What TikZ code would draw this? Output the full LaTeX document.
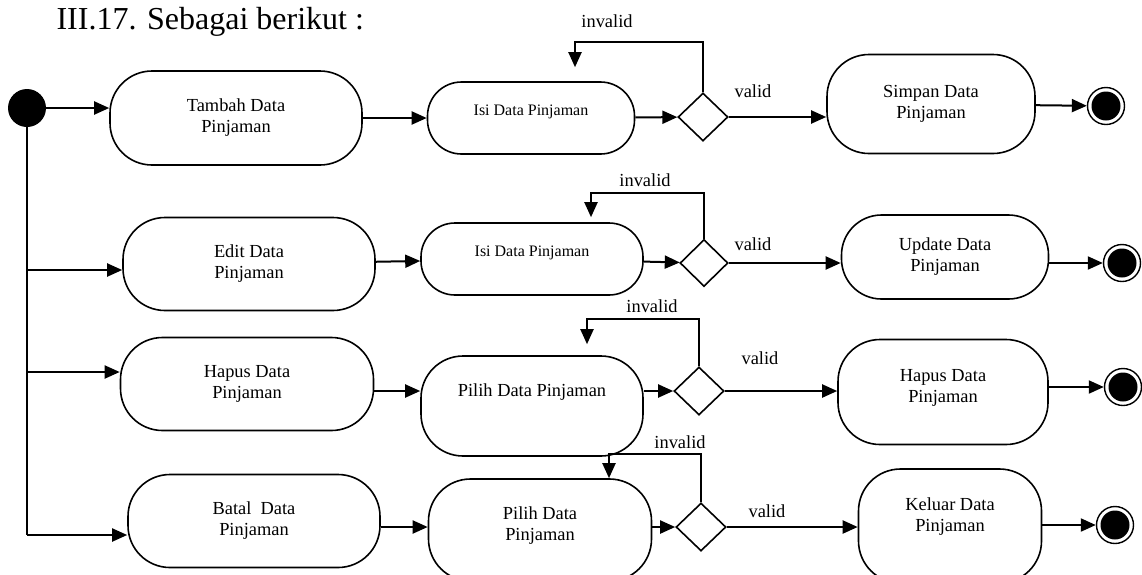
\documentclass[tikz,border=0pt]{standalone}
\usepackage{fontspec}
\setmainfont{Liberation Serif}
\usetikzlibrary{arrows.meta,positioning,shapes.geometric}

\begin{document}
\begin{tikzpicture}[x=1pt,y=-1pt,>={Triangle[length=15pt,width=13pt]},
   every node/.style={font=\fontsize{18.4}{21}\selectfont},
   act/.style={draw,line width=1.6pt,rounded corners=42pt,align=center,inner sep=0pt},
   isi/.style={act,rounded corners=34pt,font=\fontsize{16}{19}\selectfont,text depth=16pt},
   dec/.style={draw,diamond,line width=1.6pt,minimum width=50pt,minimum height=48pt,inner sep=0pt},
   ini/.style={circle,fill,minimum size=38pt,inner sep=0pt},
   fin/.style={circle,draw,line width=1.4pt,minimum size=37pt,inner sep=0pt,
     path picture={\fill (path picture bounding box.center) circle (14.5pt);}},
   line/.style={line width=2pt}]
   \useasboundingbox (0,0) rectangle (1142,574);
   \node[font=\fontsize{32}{38}\selectfont,anchor=base west] (ttl) at (53,29) {III.17. Sebagai berikut :};

   % tambah
   \node[ini] (s_0) at (27,108) {};
   \node[act,minimum width=252pt,minimum height=94pt] (a_1) at (236,118) {Tambah Data\\Pinjaman};
   \node[isi,minimum width=207pt,minimum height=72pt] (b_1) at (531,118) {Isi Data Pinjaman};
   \node[dec] (d_1) at (703,117) {};
   \node[act,minimum width=208pt,minimum height=99pt] (c_1) at (931,104) {Simpan Data\\Pinjaman};
   \node[fin] (f_1) at (1106,106) {};
   \node (inv_1) at (607,21) {invalid};
   \node (val_1) at (753,91) {valid};

   % edit
   \node[act,minimum width=252pt,minimum height=93pt] (a_2) at (249,264) {Edit Data\\Pinjaman};
   \node[isi,minimum width=222pt,minimum height=72pt] (b_2) at (532,259) {Isi Data Pinjaman};
   \node[dec,minimum width=48pt,minimum height=47pt] (d_2) at (704,263) {};
   \node[act,rounded corners=40pt,minimum width=207pt,minimum height=84pt] (c_2) at (945,257) {Update Data\\Pinjaman};
   \node[fin] (f_2) at (1122,263) {};
   \node (inv_2) at (645,180) {invalid};
   \node (val_2) at (753,244) {valid};

   % hapus
   \node[act,minimum width=253pt,minimum height=93pt] (a_3) at (247,384) {Hapus Data\\Pinjaman};
   \node[act,text depth=32pt,minimum width=222pt,minimum height=100pt] (b_3) at (532,406) {Pilih Data Pinjaman};
   \node[dec] (d_3) at (699,391) {};
   \node[act,text depth=12pt,minimum width=210pt,minimum height=105pt] (c_3) at (943,392) {Hapus Data\\Pinjaman};
   \node[fin] (f_3) at (1123,387) {};
   \node (inv_3) at (652,306) {invalid};
   \node (val_3) at (760,358) {valid};

   % batal
   \node[act,minimum width=252pt,minimum height=93pt] (a_4) at (254,521) {Batal\ \ Data\\Pinjaman};
   \node[act,text depth=12pt,minimum width=223pt,minimum height=102pt] (b_4) at (540,530) {Pilih Data\\Pinjaman};
   \node[dec] (d_4) at (701,527) {};
   \node[act,text depth=22pt,minimum width=183pt,minimum height=114pt] (c_4) at (950,526) {Keluar Data\\Pinjaman};
   \node[fin] (f_4) at (1115,525) {};
   \node (inv_4) at (680,442) {invalid};
   \node (val_4) at (767,511) {valid};

   \coordinate (k_2) at (27,270);
   \coordinate (k_3) at (27,372);
   \coordinate (k_4) at (27,535);
   \draw[line] (s_0) -- (k_4);

   \path[->,line]
    (s_0) edge (s_0 -| a_1.west)
    (k_2) edge (k_2 -| a_2.west)
    (k_3) edge (k_3 -| a_3.west)
    (k_4) edge (k_4 -| a_4.west)
    (a_1) edge (b_1)
    (b_1) edge (d_1)
    (d_1) edge (d_1 -| c_1.west)
    (c_1) edge (f_1)
    (a_2) edge (b_2)
    (b_2) edge (d_2)
    (d_2) edge (d_2 -| c_2.west)
    (c_2.east |- f_2) edge (f_2)
    (a_3.east |- d_3) edge (b_3.west |- d_3)
    (b_3.east |- d_3) edge (d_3)
    (d_3) edge (d_3 -| c_3.west)
    (c_3.east |- f_3) edge (f_3)
    (a_4.east |- d_4) edge (b_4.west |- d_4)
    (b_4.east |- d_4) edge (d_4)
    (d_4) edge (d_4 -| c_4.west)
    (c_4.east |- f_4) edge (f_4);

   % invalid loops
   \draw[->,line,shorten >=14pt] (d_1.north) -- ++(0,-50) -| ([xshift=44pt]b_1.north);
   \draw[->,line,shorten >=5pt] (d_2.north) -- ++(0,-46) -| ([xshift=59pt]b_2.north);
   \draw[->,line,shorten >=11pt] (d_3.north) -- ++(0,-47) -| ([xshift=55pt]b_3.north);
   \draw[->,line] (d_4.north) -- ++(0,-48) -| ([xshift=69pt]b_4.north);
\end{tikzpicture}
\end{document}
